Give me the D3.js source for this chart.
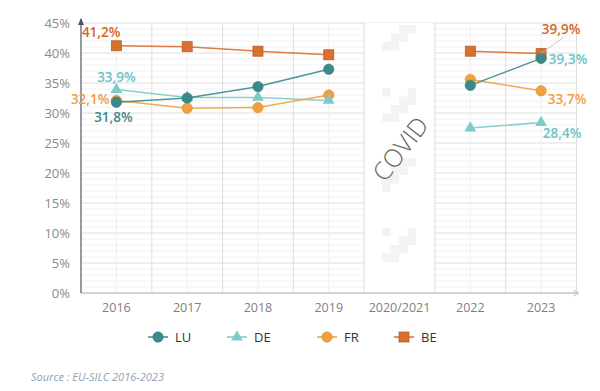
<!DOCTYPE html>
<html><head><meta charset="utf-8">
<script src="https://cdn.jsdelivr.net/npm/d3@7"></script>
<style>body{margin:0;background:#fff}svg{display:block}text{font-family:"Open Sans",sans-serif}</style>
</head><body>
<svg id="c" width="600" height="391"></svg>
<script>
const categories = ["2016","2017","2018","2019","2020/2021","2022","2023"];
const yTicks = [0,5,10,15,20,25,30,35,40,45];
const LU = [31.8,32.5,34.4,37.3,null,34.6,39.1];
const DE = [33.9,32.6,32.6,32.1,null,27.5,28.4];
const FR = [32.1,30.8,30.9,33.0,null,35.6,33.7];
const BE = [41.2,41.05,40.3,39.7,null,40.3,39.9];
const seriesNames = ["LU","DE","FR","BE"];
const seriesColors = {LU:"#3a8a8c", DE:"#7ccaca", FR:"#f0a03c", BE:"#d8702e"};
const seriesShapes = {LU:"circle", DE:"triangle", FR:"circle", BE:"square"};
const seriesData = {LU, DE, FR, BE};
const labels = [
  {s:"BE", i:0, text:"41,2%", dx:4, dy:-14, anchor:"end", color:"#d8641e"},
  {s:"DE", i:0, text:"33,9%", dx:0, dy:-12, anchor:"middle", color:"#6cc3c3"},
  {s:"FR", i:0, text:"32,1%", dx:-7, dy:-1, anchor:"end", color:"#f0a03c"},
  {s:"LU", i:0, text:"31,8%", dx:-3, dy:15, anchor:"middle", color:"#3a8a8c"},
  {s:"BE", i:6, text:"39,9%", dx:20, dy:-24, anchor:"middle", color:"#d8641e"},
  {s:"LU", i:6, text:"39,3%", dx:27, dy:1, anchor:"middle", color:"#6cc3c3"},
  {s:"FR", i:6, text:"33,7%", dx:26, dy:8, anchor:"middle", color:"#f0a03c"},
  {s:"DE", i:6, text:"28,4%", dx:21, dy:11, anchor:"middle", color:"#6cc3c3"}
];

const svg = d3.select("#c");
const m = {l:81, r:576.5, t:23, b:293};
const x = d3.scaleBand().domain(categories).range([m.l, m.r]).padding(0);
const xc = c => x(c) + x.bandwidth()/2;
const y = d3.scaleLinear().domain([0,45]).range([m.b, m.t]);

const g = svg.append("g");
g.selectAll(".hmin").data(d3.range(0,46,1)).join("line")
  .attr("x1", m.l).attr("x2", m.r).attr("y1", d=>y(d)).attr("y2", d=>y(d))
  .attr("stroke", d=> d%5===0 ? "#dedede" : "#f1f1f1").attr("stroke-width",1);
g.selectAll(".vc").data(categories).join("line")
  .attr("x1", d=>xc(d)).attr("x2", d=>xc(d)).attr("y1", m.t).attr("y2", m.b)
  .attr("stroke","#efefef");
g.selectAll(".vb").data(categories.slice(1).concat(["end"])).join("line")
  .attr("x1", d=> d==="end" ? m.r : x(d)).attr("x2", d=> d==="end" ? m.r : x(d))
  .attr("y1", m.t).attr("y2", m.b).attr("stroke","#dedede");

// COVID band
const cx0 = x("2020/2021"), cw = x.bandwidth();
g.append("rect").attr("x", cx0+1).attr("y", m.t).attr("width", cw-2).attr("height", m.b-m.t-0.5).attr("fill","#fff");
const bs = 8.5;
const groups = [
  {oy:2, blocks:[[2,0],[3,0],[1,1],[2,1],[0,2],[1,2]]},
  {oy:65, blocks:[[0,0],[3,0],[2,1],[3,1],[1,2],[2,2],[0,3],[1,3]]},
  {oy:135, blocks:[[2,0],[3,0],[1,1],[2,1],[0,2],[1,2],[0,3]]},
  {oy:205, blocks:[[0,0],[3,0],[2,1],[3,1],[1,2],[2,2],[0,3],[1,3]]}
];
groups.forEach(gr=>{
  gr.blocks.forEach(([bx,by])=>{
    g.append("rect").attr("x", cx0+18+bx*bs).attr("y", m.t+gr.oy+by*bs).attr("width",bs).attr("height",bs).attr("fill","#f2f3f4");
  });
});
g.append("text").attr("transform", `translate(${cx0+cw/2+1},${y(24)}) rotate(-52)`)
  .attr("text-anchor","middle").attr("font-size",25).attr("fill","#666").attr("font-weight",300)
  .attr("dy","0.35em").text("COVID");

// axes
g.append("line").attr("x1", m.l).attr("x2", m.r+2).attr("y1", m.b).attr("y2", m.b).attr("stroke","#c8c8c8").attr("stroke-width",1.3);
g.append("path").attr("d", `M${m.r-3},${m.b-3} L${m.r+2},${m.b} L${m.r-3},${m.b+3}`).attr("fill","none").attr("stroke","#bbb");
g.append("line").attr("x1", m.l).attr("x2", m.l).attr("y1", m.b).attr("y2", 19).attr("stroke","#7a8090").attr("stroke-width",1.6);
g.append("path").attr("d", `M${m.l-3},${25} L${m.l},${18} L${m.l+3},${25}Z`).attr("fill","#4a5060");

g.selectAll(".yt").data(yTicks).join("text")
  .attr("x", 70).attr("y", d=>y(d)).attr("dy","0.35em").attr("text-anchor","end")
  .attr("font-size",13).attr("fill","#8a8a8a").text(d=>d+"%");
g.selectAll(".xt").data(categories).join("text")
  .attr("x", d=>xc(d)).attr("y", 308).attr("dy","0.35em").attr("text-anchor","middle")
  .attr("font-size",12.5).attr("fill","#808080").text(d=>d);

function marker(sel, shape, color){
  if(shape==="circle") sel.append("circle").attr("r",5.2).attr("fill",color).attr("stroke",d3.color(color).darker(0.3)).attr("stroke-width",0.6);
  else if(shape==="square") sel.append("rect").attr("x",-5).attr("y",-5).attr("width",10).attr("height",10).attr("fill",color).attr("stroke",d3.color(color).darker(0.5)).attr("stroke-width",0.8);
  else sel.append("path").attr("d", d3.symbol(d3.symbolTriangle, 60)()).attr("fill",color);
}

const line = d3.line().defined(d=>d.v!=null).x(d=>xc(d.c)).y(d=>y(d.v));
const order = ["BE","FR","DE","LU"];
order.forEach(s=>{
  const pts = seriesData[s].map((v,i)=>({c:categories[i], v}));
  g.append("path").datum(pts).attr("d", line).attr("fill","none").attr("stroke", seriesColors[s]).attr("stroke-width",1.5).attr("opacity",0.9);
});
order.forEach(s=>{
  seriesData[s].forEach((v,i)=>{
    if(v==null) return;
    const mg = g.append("g").attr("transform",`translate(${xc(categories[i])},${y(v)})`);
    marker(mg, seriesShapes[s], seriesColors[s]);
  });
});

{
  const p = {x: xc("2023"), y: y(BE[6])};
  g.append("line").attr("x1", p.x).attr("y1", p.y).attr("x2", p.x+22).attr("y2", p.y-16).attr("stroke","#bbb").attr("stroke-width",0.8);
}
labels.forEach(l=>{
  const v = seriesData[l.s][l.i];
  g.append("text").attr("x", xc(categories[l.i])+l.dx).attr("y", y(v)+l.dy).attr("dy","0.35em")
    .attr("text-anchor", l.anchor).attr("font-size",13.5).attr("font-weight",600).attr("fill", l.color).text(l.text);
});

const legX = {LU:158, DE:237, FR:327, BE:404};
const ly = 337;
seriesNames.forEach(s=>{
  const lg = g.append("g").attr("transform",`translate(${legX[s]},${ly})`);
  lg.append("line").attr("x1",-10).attr("x2",10).attr("stroke",seriesColors[s]).attr("stroke-width",1.5);
  marker(lg, seriesShapes[s], seriesColors[s]);
  g.append("text").attr("x", legX[s]+17).attr("y", ly).attr("dy","0.35em").attr("font-size",13).attr("fill","#333").text(s);
});

g.append("text").attr("x", 31).attr("y", 377).attr("dy","0.35em").attr("font-size",11).attr("font-style","italic").attr("fill","#8fa0b8").text("Source : EU-SILC 2016-2023");
</script>
</body></html>
